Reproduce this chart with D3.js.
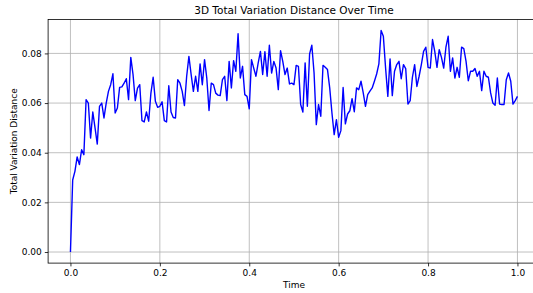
<!DOCTYPE html>
<html>
<head>
<meta charset="utf-8">
<script src="https://cdn.jsdelivr.net/npm/d3@7"></script>
<style>
    body { margin: 0; background: #fff; }
    svg { display: block; font-family: "DejaVu Sans", sans-serif; }
</style>
</head>
<body>
<div id="chart"></div>
<script>
// total variation distance, one value every 0.005 time units
const tvDistance = [
    0.0000, 0.0290, 0.0325, 0.0383, 0.0352, 0.0412, 0.0392, 0.0614, 0.0600, 0.0459,
    0.0564, 0.0500, 0.0435, 0.0587, 0.0600, 0.0540, 0.0600, 0.0647, 0.0674, 0.0718,
    0.0560, 0.0580, 0.0663, 0.0665, 0.0680, 0.0698, 0.0614, 0.0784, 0.0715, 0.0610,
    0.0660, 0.0674, 0.0529, 0.0524, 0.0564, 0.0527, 0.0640, 0.0704, 0.0607, 0.0583,
    0.0587, 0.0605, 0.0529, 0.0524, 0.0670, 0.0564, 0.0542, 0.0540, 0.0694, 0.0680,
    0.0647, 0.0590, 0.0708, 0.0788, 0.0715, 0.0647, 0.0708, 0.0647, 0.0758, 0.0674,
    0.0775, 0.0701, 0.0570, 0.0680, 0.0674, 0.0640, 0.0632, 0.0630, 0.0694, 0.0708,
    0.0610, 0.0768, 0.0661, 0.0771, 0.0728, 0.0879, 0.0701, 0.0748, 0.0634, 0.0627,
    0.0577, 0.0775, 0.0741, 0.0708, 0.0762, 0.0808, 0.0715, 0.0807, 0.0708, 0.0833,
    0.0721, 0.0768, 0.0741, 0.0654, 0.0811, 0.0768, 0.0715, 0.0741, 0.0677, 0.0680,
    0.0674, 0.0752, 0.0748, 0.0594, 0.0564, 0.0762, 0.0587, 0.0798, 0.0833, 0.0721,
    0.0513, 0.0594, 0.0547, 0.0752, 0.0744, 0.0735, 0.0661, 0.0560, 0.0473, 0.0533,
    0.0462, 0.0489, 0.0663, 0.0516, 0.0556, 0.0569, 0.0618, 0.0565, 0.0661, 0.0654,
    0.0688, 0.0641, 0.0587, 0.0634, 0.0648, 0.0661, 0.0688, 0.0717, 0.0758, 0.0892,
    0.0869, 0.0741, 0.0627, 0.0778, 0.0630, 0.0728, 0.0755, 0.0768, 0.0698, 0.0755,
    0.0739, 0.0596, 0.0610, 0.0704, 0.0755, 0.0667, 0.0708, 0.0755, 0.0808, 0.0825,
    0.0744, 0.0741, 0.0856, 0.0808, 0.0744, 0.0815, 0.0784, 0.0741, 0.0825, 0.0869,
    0.0728, 0.0782, 0.0701, 0.0744, 0.0704, 0.0825, 0.0819, 0.0768, 0.0690, 0.0728,
    0.0728, 0.0739, 0.0708, 0.0728, 0.0650, 0.0728, 0.0708, 0.0704, 0.0641, 0.0600,
    0.0591, 0.0701, 0.0596, 0.0594, 0.0594, 0.0694, 0.0721, 0.0688, 0.0596, 0.0610,
    0.0627
];
const timeStep = 0.005;

const xTicks = [0, 0.2, 0.4, 0.6, 0.8, 1.0];
const yTicks = [0, 0.02, 0.04, 0.06, 0.08];

const titleText = "3D Total Variation Distance Over Time";
const xLabel = "Time";
const yLabel = "Total Variation Distance";

const width = 533, height = 293;
const plotLeft = 48.1, plotRight = 539.8, plotTop = 19.5, plotBottom = 263.1;

const svg = d3.select("#chart").append("svg")
    .attr("width", width)
    .attr("height", height);

// matplotlib style 5% margins
const x = d3.scaleLinear().domain([-0.05, 1.05]).range([plotLeft, plotRight]);
const yMax = d3.max(tvDistance);
const y = d3.scaleLinear().domain([-0.05 * yMax, 1.05 * yMax]).range([plotBottom, plotTop]);

// grid lines
svg.append("g")
    .attr("stroke", "#b0b0b0")
    .attr("stroke-width", 0.8)
    .selectAll("line")
    .data(xTicks)
    .enter().append("line")
    .attr("x1", d => x(d)).attr("x2", d => x(d))
    .attr("y1", plotTop).attr("y2", plotBottom);

svg.append("g")
    .attr("stroke", "#b0b0b0")
    .attr("stroke-width", 0.8)
    .selectAll("line")
    .data(yTicks)
    .enter().append("line")
    .attr("x1", plotLeft).attr("x2", plotRight)
    .attr("y1", d => y(d)).attr("y2", d => y(d));

// the series
const line = d3.line()
    .x((d, i) => x(i * timeStep))
    .y(d => y(d));

svg.append("path")
    .datum(tvDistance)
    .attr("fill", "none")
    .attr("stroke", "#0000ff")
    .attr("stroke-width", 1.4)
    .attr("stroke-linejoin", "round")
    .attr("d", line);

// axes
const xAxis = svg.append("g")
    .attr("transform", `translate(0,${plotBottom})`)
    .call(d3.axisBottom(x).tickValues(xTicks).tickFormat(d3.format(".1f")).tickSize(3.3).tickPadding(3));

const yAxis = svg.append("g")
    .attr("transform", `translate(${plotLeft},0)`)
    .call(d3.axisLeft(y).tickValues(yTicks).tickFormat(d3.format(".2f")).tickSize(3.3).tickPadding(3));

[xAxis, yAxis].forEach(a => {
    a.select(".domain").remove();
    a.selectAll("text")
        .attr("font-family", "DejaVu Sans")
        .attr("font-size", 9)
        .attr("fill", "#000");
    a.selectAll("line").attr("stroke", "#000").attr("stroke-width", 0.8);
});

// frame
svg.append("rect")
    .attr("x", plotLeft).attr("y", plotTop)
    .attr("width", plotRight - plotLeft).attr("height", plotBottom - plotTop)
    .attr("fill", "none")
    .attr("stroke", "#000")
    .attr("stroke-width", 0.8);

// titles
svg.append("text")
    .attr("x", (plotLeft + plotRight) / 2)
    .attr("y", 14)
    .attr("text-anchor", "middle")
    .attr("font-size", 10.5)
    .text(titleText);

svg.append("text")
    .attr("x", (plotLeft + plotRight) / 2)
    .attr("y", 288)
    .attr("text-anchor", "middle")
    .attr("font-size", 9)
    .text(xLabel);

svg.append("text")
    .attr("transform", `translate(17,${(plotTop + plotBottom) / 2}) rotate(-90)`)
    .attr("text-anchor", "middle")
    .attr("font-size", 9)
    .text(yLabel);
</script>
</body>
</html>
